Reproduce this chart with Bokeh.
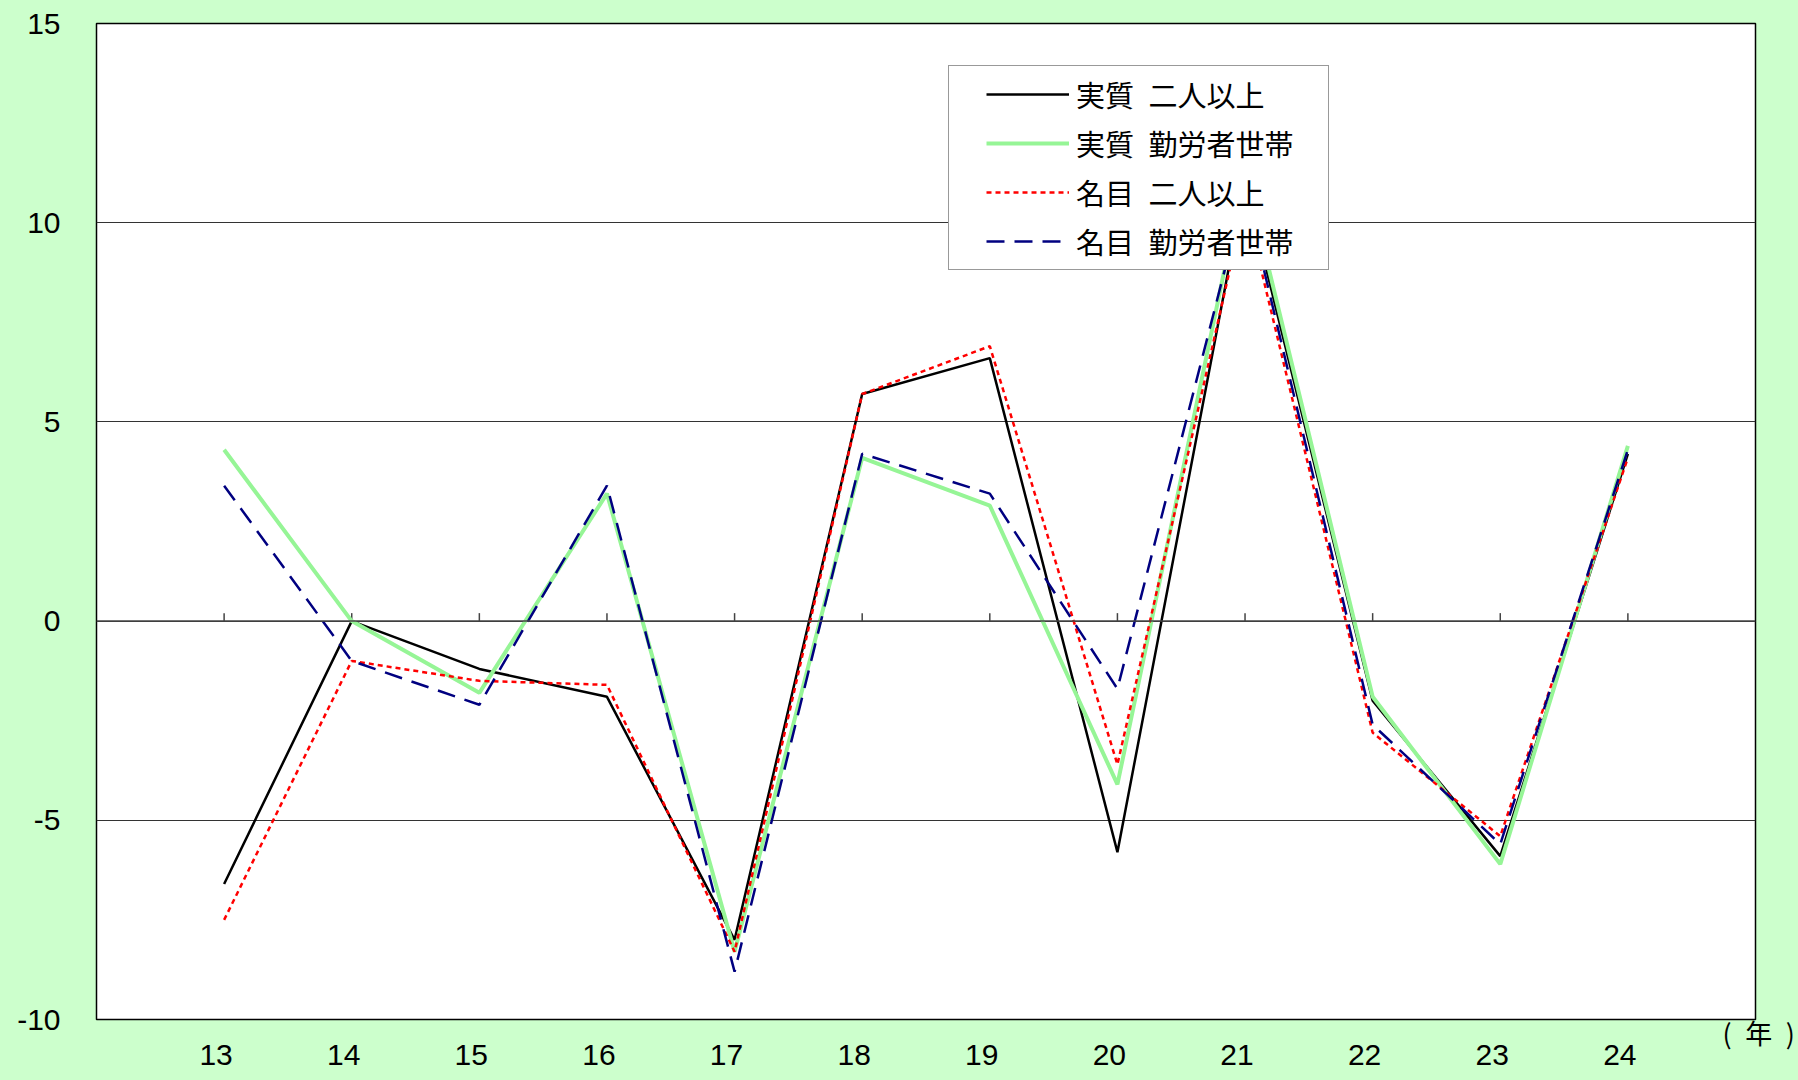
from bokeh.plotting import figure
from bokeh.models import Range1d, FixedTicker, Legend, LegendItem, Span, LinearAxis
from bokeh.embed import file_html
from bokeh.resources import INLINE

years = [13, 14, 15, 16, 17, 18, 19, 20, 21, 22, 23, 24]
year_labels = ["13", "14", "15", "16", "17", "18", "19", "20", "21", "22", "23", "24"]

real_multi = [-6.6, 0.0, -1.2, -1.9, -8.0, 5.7, 6.6, -5.8, 11.0, -2.0, -5.9, 4.2]
real_worker = [4.3, 0.0, -1.8, 3.2, -8.3, 4.1, 2.9, -4.1, 11.3, -1.9, -6.1, 4.4]
nominal_multi = [-7.5, -1.0, -1.5, -1.6, -8.3, 5.7, 6.9, -3.6, 10.5, -2.8, -5.4, 4.1]
nominal_worker = [3.4, -1.0, -2.1, 3.4, -8.8, 4.2, 3.2, -1.7, 10.8, -2.6, -5.6, 4.3]

series_names = ["実質\u2002二人以上", "実質\u2002勤労者世帯", "名目\u2002二人以上", "名目\u2002勤労者世帯"]
y_ticks = [-10, -5, 0, 5, 10, 15]
y_tick_labels = ["-10", "-5", "0", "5", "10", "15"]
x_unit_label = "\u2002\n(\u2002年\u2002)"

BG = "#CCFFCC"
CJK = "Noto Sans CJK JP"
LAT = "Liberation Sans"

p = figure(width=1798, height=1080, x_range=Range1d(12, 25), y_range=Range1d(-10, 15),
           output_backend="svg", toolbar_location=None, x_axis_location=None,
           min_border_left=96, min_border_right=43, min_border_top=23, min_border_bottom=61)
p.background_fill_color = "white"
p.border_fill_color = BG
p.outline_line_color = "black"
p.outline_line_width = 1.5

p.xgrid.visible = False
p.ygrid.ticker = FixedTicker(ticks=y_ticks)
p.ygrid.grid_line_color = "#333333"
p.ygrid.grid_line_width = 1

p.yaxis.ticker = FixedTicker(ticks=y_ticks)
p.yaxis.major_label_overrides = {t: l for t, l in zip(y_ticks, y_tick_labels)}
p.yaxis.axis_line_color = None
p.yaxis.major_tick_line_color = None
p.yaxis.minor_tick_line_color = None
p.yaxis.major_tick_out = 0
p.yaxis.major_label_standoff = 36
p.yaxis.major_label_text_font = LAT
p.yaxis.major_label_text_font_size = "30px"
p.yaxis.major_label_text_color = "black"

# category labels sit slightly left of the data positions in the reference
p.extra_x_ranges = {"labels": Range1d(12.063, 25.063)}
xaxis = LinearAxis(x_range_name="labels", ticker=FixedTicker(ticks=years),
                   major_label_overrides={y: l for y, l in zip(years, year_labels)},
                   axis_line_color=None, major_tick_line_color=None, minor_tick_line_color=None,
                   major_tick_out=0, major_label_standoff=25,
                   major_label_text_font=LAT, major_label_text_font_size="30px",
                   major_label_text_color="black")
p.add_layout(xaxis, "below")

# unit label "(年)" at the lower right corner
p.extra_y_ranges = {"unit": Range1d(-10, 15)}
unit_axis = LinearAxis(y_range_name="unit", ticker=FixedTicker(ticks=[-10]),
                       major_label_overrides={-10: x_unit_label},
                       axis_line_color=None, major_tick_line_color=None, minor_tick_line_color=None,
                       major_tick_out=0, major_tick_in=0, major_label_standoff=-33,
                       major_label_text_font=CJK, major_label_text_font_size="27px",
                       major_label_text_line_height=0.65,
                       major_label_text_color="black")
p.add_layout(unit_axis, "right")

p.add_layout(Span(location=0, dimension="width", line_color="#444444", line_width=1.5))
p.segment(x0=years, y0=[0] * len(years), x1=years, y1=[0.2] * len(years),
          line_color="#444444", line_width=1.5)

r1 = p.line(years, real_multi, line_color="black", line_width=2.5)
r2 = p.line(years, real_worker, line_color="#96F596", line_width=4)
r3 = p.line(years, nominal_multi, line_color="#FF0000", line_width=2.5, line_dash="5 4")
r4 = p.line(years, nominal_worker, line_color="#000080", line_width=2.5, line_dash="18 10")

legend = Legend(items=[LegendItem(label=n, renderers=[r]) for n, r in zip(series_names, [r1, r2, r3, r4])],
                location=(852, 749), orientation="vertical",
                title="\u2002", title_location="left", title_text_font=LAT,
                title_text_font_size="8px", title_standoff=21,
                label_text_font=CJK, label_text_font_size="29px", label_text_color="black",
                glyph_width=83, glyph_height=30, label_height=30, label_standoff=7,
                label_width=245, spacing=7, padding=7, margin=0,
                border_line_color="#333333", border_line_width=1.5,
                background_fill_color="white", background_fill_alpha=1.0)
p.add_layout(legend, "center")

html = file_html(p, INLINE)
html = html.replace("<head>", "<head><style>html,body{background:#CCFFCC}</style>", 1)
open("out.html", "w").write(html)
